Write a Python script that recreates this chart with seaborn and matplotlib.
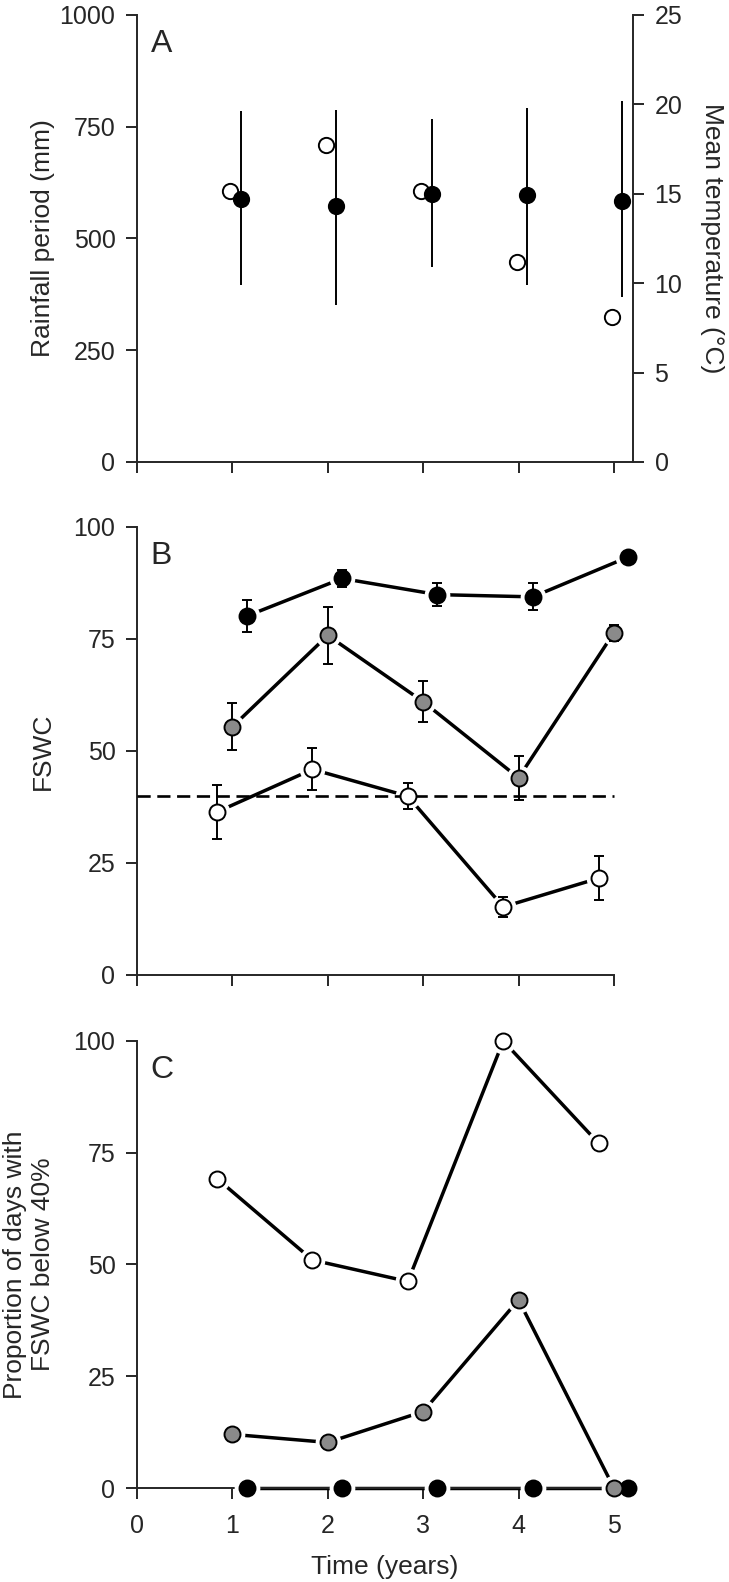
import numpy as np
import pandas as pd
import seaborn as sns
import matplotlib.pyplot as plt

# --- data ---
years = [1, 2, 3, 4, 5]

# panel A
rain_mm = [607, 708, 605, 447, 324]
temp_mean = [14.7, 14.3, 15.0, 14.9, 14.6]
temp_min = [9.9, 8.8, 10.9, 9.9, 9.2]
temp_max = [19.6, 19.7, 19.2, 19.8, 20.2]

# panel B (FSWC, mean +- se)
fswc_black = [80.1, 88.5, 84.9, 84.4, 93.3]
fswc_black_se = [3.5, 1.9, 2.6, 3.0, 0.5]
fswc_grey = [55.4, 75.8, 61.0, 44.0, 76.4]
fswc_grey_se = [5.2, 6.4, 4.6, 4.9, 1.8]
fswc_open = [36.4, 45.9, 39.9, 15.2, 21.6]
fswc_open_se = [6.1, 4.7, 2.9, 2.2, 4.9]
fswc_threshold = 40

# panel C (% days with FSWC < 40 %)
below_open = [69.2, 51.0, 46.2, 100, 77.1]
below_grey = [12.0, 10.2, 17.1, 42.1, 0]
below_black = [0, 0, 0, 0, 0]

# horizontal offsets so the groups don't overlap
off_open, off_grey, off_black = -0.16, 0.0, 0.15
off_rain, off_temp = -0.02, 0.09

GREY = '#8a8a8a'
TICK_FS, LABEL_FS, LETTER_FS = 18, 19, 23

sns.set_style('ticks')
plt.rcParams['font.family'] = ['Liberation Sans', 'DejaVu Sans']
plt.rcParams['axes.linewidth'] = 1.4

fig = plt.figure(figsize=(7.29, 15.82), dpi=100)
left, width = 0.1879, 0.6804
axA = fig.add_axes([left, 0.7080, width, 0.2826])
axB = fig.add_axes([left, 0.3837, width, 0.2832])
axC = fig.add_axes([left, 0.0594, width, 0.2826])


def shift(xs, d):
    return [x + d for x in xs]


def draw_series(ax, x, y, face, se=None, line=True, ms=11.5):
    df = pd.DataFrame({'x': x, 'y': y})
    if line:
        sns.lineplot(data=df, x='x', y='y', color='black', lw=2.5, ax=ax,
                     zorder=2, clip_on=False)
        # white halo -> gap between line and marker
        ax.plot(x, y, 'o', ms=ms + 7, color='white', mec='none', zorder=3,
                clip_on=False)
    if se is not None:
        ax.errorbar(x, y, yerr=se, fmt='none', ecolor='black', elinewidth=1.4,
                    capsize=3.6, capthick=1.4, zorder=4, clip_on=False)
    sns.scatterplot(data=df, x='x', y='y', s=ms ** 2, color=face,
                    edgecolor='black', linewidth=1.4, ax=ax, zorder=5,
                    clip_on=False, legend=False)


def style(ax, yticks, letter, xlabels=False):
    ax.set_xlim(0, 5.2)
    ax.set_xticks(range(0, 6))
    if not xlabels:
        ax.set_xticklabels([])
    ax.set_yticks(yticks)
    ax.tick_params(direction='out', length=8, width=1.4, labelsize=TICK_FS,
                   pad=7.5)
    ax.tick_params(axis='x', pad=11)
    for s in ['top', 'right']:
        ax.spines[s].set_visible(False)
    ax.text(0.028, 0.968, letter, transform=ax.transAxes, ha='left',
            va='top', fontsize=LETTER_FS)
    ax.set_xlabel('')
    ax.set_ylabel('')


# ---- A ----
ax2 = axA.twinx()
draw_series(axA, shift(years, off_rain), rain_mm, 'white', line=False, ms=11)
t_err = [np.subtract(temp_mean, temp_min), np.subtract(temp_max, temp_mean)]
ax2.errorbar(shift(years, off_temp), temp_mean, yerr=t_err, fmt='none',
             ecolor='black', elinewidth=1.4, capsize=0)
draw_series(ax2, shift(years, off_temp), temp_mean, 'black', line=False, ms=11)
axA.set_ylim(0, 1000)
ax2.set_ylim(0, 25)
style(axA, [0, 250, 500, 750, 1000], 'A')
ax2.set_xlim(0, 5.2)
ax2.set_yticks([0, 5, 10, 15, 20, 25])
ax2.tick_params(direction='out', length=8, width=1.4, labelsize=TICK_FS,
                pad=7.5)
for s in ['top', 'left', 'bottom']:
    ax2.spines[s].set_visible(False)
ax2.spines['right'].set_visible(True)
axA.set_ylabel('Rainfall period (mm)', fontsize=LABEL_FS)
axA.yaxis.set_label_coords(-0.165, 0.5)
ax2.set_ylabel('Mean temperature (°C)', fontsize=LABEL_FS, rotation=270,
               va='bottom')
ax2.yaxis.set_label_coords(1.135, 0.5)

# ---- B ----
axB.plot([0, max(years)], [fswc_threshold, fswc_threshold], color='black',
         lw=1.9, ls=(0, (5, 2.5)), zorder=3.5)
draw_series(axB, shift(years, off_black), fswc_black, 'black', fswc_black_se)
draw_series(axB, shift(years, off_grey), fswc_grey, GREY, fswc_grey_se)
draw_series(axB, shift(years, off_open), fswc_open, 'white', fswc_open_se)
axB.set_ylim(0, 100)
style(axB, [0, 25, 50, 75, 100], 'B')
axB.spines['bottom'].set_bounds(0, 5)
axB.set_ylabel('FSWC', fontsize=LABEL_FS)
axB.yaxis.set_label_coords(-0.165, 0.5)

# ---- C ----
draw_series(axC, shift(years, off_black), below_black, 'black')
draw_series(axC, shift(years, off_grey), below_grey, GREY)
draw_series(axC, shift(years, off_open), below_open, 'white')
axC.set_ylim(0, 100)
style(axC, [0, 25, 50, 75, 100], 'C', xlabels=True)
axC.set_ylabel('Proportion of days with\nFSWC below 40%', fontsize=LABEL_FS)
axC.yaxis.set_label_coords(-0.165, 0.5)
axC.set_xlabel('Time (years)', fontsize=LABEL_FS, labelpad=12)

fig.savefig('out.png', dpi=100)
